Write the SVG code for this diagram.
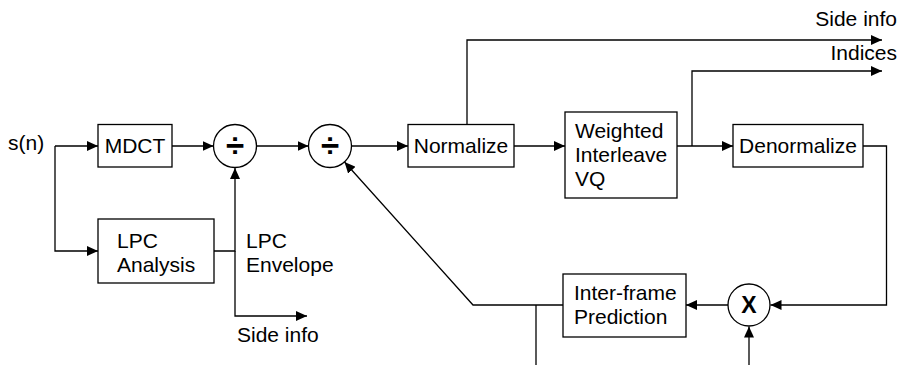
<svg xmlns="http://www.w3.org/2000/svg" width="900" height="365" viewBox="0 0 900 365">
<style>
.box{fill:#fff;stroke:#000;stroke-width:1.3}
.ln{fill:none;stroke:#000;stroke-width:1.3}
.arr{marker-end:url(#ah)}
text{font-family:"Liberation Sans",Arial,sans-serif;font-size:21px;fill:#000}
.c{text-anchor:middle}
.e{text-anchor:end}
.sym{font-size:33px;font-weight:bold}
.x{font-size:23px;font-weight:bold}
</style>
<defs>
<marker id="ah" markerUnits="userSpaceOnUse" markerWidth="12" markerHeight="10" refX="11" refY="5" orient="auto" viewBox="0 0 12 10">
<path d="M0,0 L11,5 L0,10 z" fill="#000"/>
</marker>
</defs>
<rect width="900" height="365" fill="#fff"/>
<g id="connectors">
<path class="ln arr" d="M55,146 H98"/>
<path class="ln arr" d="M55,146 V251 H98"/>
<path class="ln arr" d="M172,146 H213.5"/>
<path class="ln arr" d="M256.5,146 H308.5"/>
<path class="ln arr" d="M214,251 H235 V168"/>
<path class="ln arr" d="M235,251 V316 H307"/>
<path class="ln arr" d="M351.5,146 H408"/>
<path class="ln arr" d="M514,146 H565"/>
<path class="ln arr" d="M467,124 V40 H882"/>
<path class="ln arr" d="M677,146 H733"/>
<path class="ln arr" d="M692,146 V71 H882"/>
<path class="ln arr" d="M863,146 H886.5 V305 H770.5"/>
<path class="ln arr" d="M728,305 H686"/>
<path class="ln arr" d="M563,305 H473 L344.5,162"/>
<path class="ln" d="M536,305 V365"/>
<path class="ln arr" d="M749,365 V326.5"/>
</g>
<g id="input"><text x="8" y="150">s(n)</text></g>
<g id="mdct"><rect class="box" x="98" y="124.5" width="74" height="42.5"/><text class="c" x="135" y="153">MDCT</text></g>
<g id="div1"><circle class="box" cx="235" cy="146" r="21.5"/><text class="c sym" x="235" y="157">÷</text></g>
<g id="div2"><circle class="box" cx="330" cy="146" r="21.5"/><text class="c sym" x="330" y="157">÷</text></g>
<g id="lpc"><rect class="box" x="98" y="219" width="116" height="64"/><text x="117" y="247.5">LPC</text><text x="117" y="271.5">Analysis</text></g>
<g id="lpc-env-label"><text x="246" y="248">LPC</text><text x="246" y="272">Envelope</text></g>
<g id="side-info-bottom"><text x="237" y="342">Side info</text></g>
<g id="normalize"><rect class="box" x="408" y="124.5" width="106" height="42.5"/><text class="c" x="461" y="153">Normalize</text></g>
<g id="wivq"><rect class="box" x="565" y="112" width="112" height="86"/><text x="575" y="138">Weighted</text><text x="575" y="162">Interleave</text><text x="575" y="186">VQ</text></g>
<g id="denormalize"><rect class="box" x="733" y="124.5" width="130" height="42.5"/><text class="c" x="798" y="153">Denormalize</text></g>
<g id="side-info-top"><text class="e" x="897" y="26">Side info</text></g>
<g id="indices"><text class="e" x="897" y="60">Indices</text></g>
<g id="interframe"><rect class="box" x="563" y="274" width="123" height="63"/><text x="574" y="300">Inter-frame</text><text x="574" y="324">Prediction</text></g>
<g id="mult"><circle class="box" cx="749" cy="305" r="21"/><text class="c x" x="749" y="313">X</text></g>
</svg>
